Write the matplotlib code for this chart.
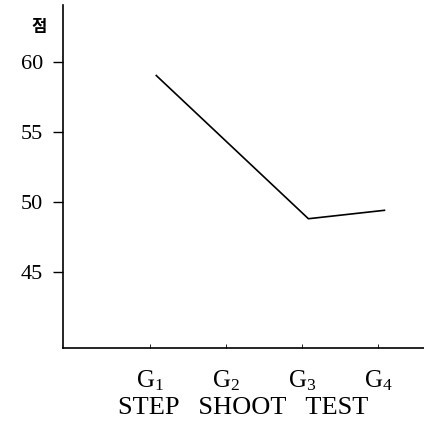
import matplotlib
matplotlib.use("Agg")
import matplotlib.pyplot as plt

# 집단별 STEP SHOOT TEST 평균 점수
groups = [r"$\mathrm{G}_1$", r"$\mathrm{G}_2$", r"$\mathrm{G}_3$", r"$\mathrm{G}_4$"]
scores = [59.0, 53.9, 48.8, 49.4]
y_ticks = [45, 50, 55, 60]
y_tick_labels = ["45", "50", "55", "60"]

plt.rcParams["font.family"] = ["Liberation Serif", "Noto Sans CJK KR"]
plt.rcParams["mathtext.fontset"] = "custom"
plt.rcParams["mathtext.rm"] = "Liberation Serif"
plt.rcParams["mathtext.it"] = "Liberation Serif:italic"

fig = plt.figure(figsize=(4.24, 4.46), dpi=100)
ax = fig.add_axes([0.148, 0.22, 0.852, 0.768])

x = list(range(1, len(groups) + 1))
ax.plot([v + 0.08 for v in x], scores, color="black", lw=1.2)

ax.set_xlim(-0.15, 4.6)
ax.set_ylim(39.6, 64)
ax.set_yticks(y_ticks)
ax.set_yticklabels(y_tick_labels, fontsize=16)
ax.set_xticks(x)
ax.set_xticklabels(groups, fontsize=18)
ax.tick_params(axis="y", direction="out", length=7, width=1, pad=7)
ax.tick_params(axis="x", direction="in", length=3, width=0.6, pad=15)

for side in ("top", "right"):
    ax.spines[side].set_visible(False)
for side in ("left", "bottom"):
    ax.spines[side].set_linewidth(1.2)

ax.set_xlabel("STEP   SHOOT   TEST", fontsize=19, labelpad=3)
fig.text(0.075, 0.96, "점", fontsize=12, fontweight="bold",
         family="Noto Sans CJK KR", va="top", ha="left")

fig.savefig("out.png", dpi=100)
